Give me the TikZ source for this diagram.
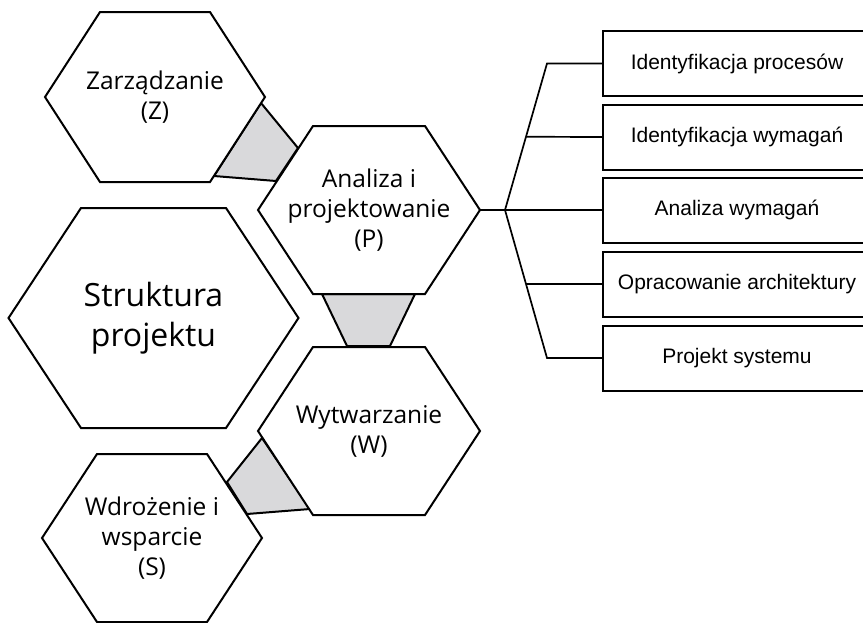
\documentclass[tikz,border=0pt]{standalone}
\usepackage{fontspec}
\setmainfont{Open Sans}
\newfontfamily\boxfont{Liberation Sans}
\usetikzlibrary{positioning,calc}
\definecolor{jointgray}{rgb}{0.85,0.85,0.86}

\begin{document}
\begin{tikzpicture}[x=1pt,y=-1pt,
  hexline/.style={draw,line width=2pt,line join=miter,fill=white},
  hexlabel/.style={align=center,inner sep=0pt,font=\fontsize{24.5}{30}\selectfont},
  joint/.style={draw,line width=2pt,fill=jointgray,line join=miter},
  task/.style={rectangle,draw,line width=2pt,minimum width=268pt,minimum height=65pt,
    anchor=west,inner sep=0pt,font=\boxfont\fontsize{21}{24}\selectfont},
  branch/.style={line width=1.7pt}]
\useasboundingbox (0,0) rectangle (863,622);
\clip (0,0) rectangle (863,622);

% grey links between the hexagons
\filldraw[joint] (261,103) -- (298,148) -- (276,181) -- (214,176) -- cycle;
\filldraw[joint] (322,294) -- (415,294) -- (390,346) -- (347,346) -- cycle;
\filldraw[joint] (262,438) -- (310,509) -- (247,514) -- (227,482) -- cycle;

\coordinate (zc) at (155,97);
\coordinate (pc) at (369,210);
\coordinate (wc) at (369,431);
\coordinate (sc) at (152,538);
\coordinate (mc) at (153.5,318);

\draw[hexline] (zc) ++(-110,0) -- ++(55,-85) -- ++(110,0) -- ++(55,85) -- ++(-55,85) -- ++(-110,0) -- cycle;
\draw[hexline] (pc) ++(-111,0) -- ++(55,-84) -- ++(112,0) -- ++(55,84) -- ++(-55,84) -- ++(-112,0) -- cycle;
\draw[hexline] (wc) ++(-111,0) -- ++(55,-84) -- ++(112,0) -- ++(55,84) -- ++(-55,84) -- ++(-112,0) -- cycle;
\draw[hexline] (sc) ++(-110,0) -- ++(55,-84) -- ++(110,0) -- ++(55,84) -- ++(-55,84) -- ++(-110,0) -- cycle;
\draw[hexline] (mc) ++(-145,0) -- ++(72.5,-110) -- ++(145,0) -- ++(72.5,110) -- ++(-72.5,110) -- ++(-145,0) -- cycle;

\node[hexlabel] (Z) at (zc) {Zarządzanie\\(Z)};
\node[hexlabel] (P) at (pc) {Analiza i\\projektowanie\\(P)};
\node[hexlabel] (W) at (wc) {Wytwarzanie\\(W)};
\node[hexlabel] (S) at (sc) {Wdrożenie i\\wsparcie\\(S)};
\node[hexlabel,font=\fontsize{32}{40}\selectfont] (M) at (mc) {Struktura\\projektu};

% boxes on the right
\node[task] (t1) at (602,63.5) {Identyfikacja procesów};
\node[task] (t2) at (602,137) {Identyfikacja wymagań};
\node[task] (t3) at (602,210) {Analiza wymagań};
\node[task] (t4) at (602,284) {Opracowanie architektury};
\node[task] (t5) at (602,358) {Projekt systemu};

\coordinate (pr) at (480,210);
\coordinate (fork) at (505,210);
\coordinate (up) at (547,63.5);
\coordinate (down) at (547,358);

\draw[branch] (pr) -- (t3.west);
\draw[branch] (fork) -- (up) -- (t1.west);
\draw[branch] (fork) -- (down) -- (t5.west);
\draw[branch] ($(fork)!.5!(up)$) -- (t2.west);
\draw[branch] ($(fork)!.5!(down)$) -- (t4.west);
\end{tikzpicture}
\end{document}
